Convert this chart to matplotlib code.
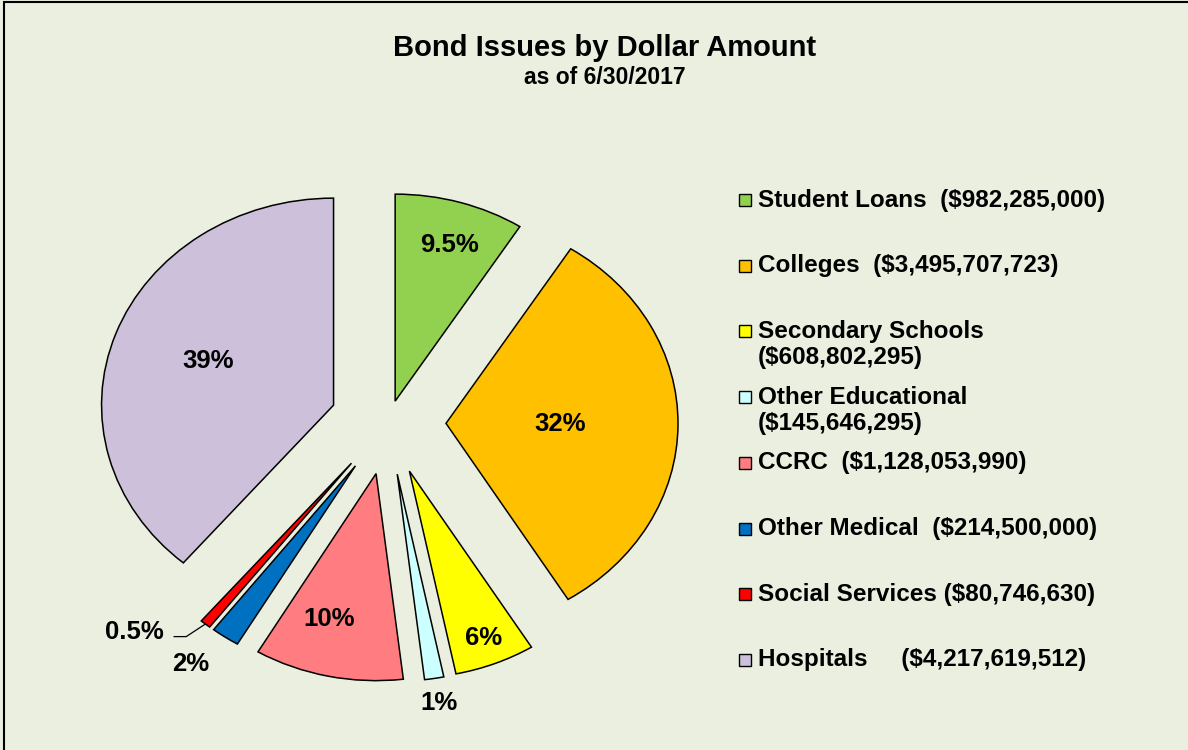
import numpy as np
import matplotlib.pyplot as plt
from matplotlib.patches import Rectangle

plt.rcParams['font.family'] = ['Liberation Sans', 'DejaVu Sans']
plt.rcParams['font.weight'] = 'bold'

# dados
categorias = ["Student Loans", "Colleges", "Secondary Schools", "Other Educational",
              "CCRC", "Other Medical", "Social Services", "Hospitals"]
valores = [982285000, 3495707723, 608802295, 145646295,
           1128053990, 214500000, 80746630, 4217619512]
rotulos_pct = ["9.5%", "32%", "6%", "1%", "10%", "2%", "0.5%", "39%"]
rotulos_legenda = ["Student Loans  ($982,285,000)",
                   "Colleges  ($3,495,707,723)",
                   "Secondary Schools\n($608,802,295)",
                   "Other Educational\n($145,646,295)",
                   "CCRC  ($1,128,053,990)",
                   "Other Medical  ($214,500,000)",
                   "Social Services ($80,746,630)",
                   "Hospitals     ($4,217,619,512)"]
cores = ["#92D050", "#FFC000", "#FFFF00", "#CCFFFF",
         "#FF7C80", "#0070C0", "#FF0000", "#CCC0DA"]

# layout
explode = [0.11, 0.25, 0.25, 0.25, 0.25, 0.25, 0.25, 0.25]
dist_rotulo = [0.79, 0.49, 0.87, 1.12, 0.73, 1.19, 1.24, 0.58]
desvio_ang = [-1, 0, 0, 0, -3, -2, -8.2, -1]
fundo = "#EBEFE0"
W, H = 1188, 750

fig = plt.figure(figsize=(W / 100, H / 100), dpi=100, facecolor=fundo)

def fx(px):
    return px / W

def fy(py):
    return 1 - py / H

# eixo da pizza (esticado na horizontal como no original)
cx, cy, rx, ry = 388, 423, 232, 207
ax = fig.add_axes([fx(cx - 1.5 * rx), fy(cy + 1.5 * ry), 3 * rx / W, 3 * ry / H])
ax.set_facecolor(fundo)
wedges, _ = ax.pie(valores, explode=explode, colors=cores, startangle=90,
                   counterclock=False,
                   wedgeprops=dict(edgecolor='black', linewidth=1.1))
ax.set_aspect('auto')
ax.set_xlim(-1.5, 1.5)
ax.set_ylim(-1.5, 1.5)
ax.axis('off')

for i, w in enumerate(wedges):
    meio = np.deg2rad((w.theta1 + w.theta2) / 2)
    ang = meio + np.deg2rad(desvio_ang[i])
    r = explode[i] + dist_rotulo[i]
    x, y = r * np.cos(ang), r * np.sin(ang)
    ax.text(x, y, rotulos_pct[i], ha='center', va='center', fontsize=18.5,
            fontweight='bold')
    if rotulos_pct[i] == "0.5%":
        r0 = 1.0 + explode[i]
        x0, y0 = r0 * np.cos(meio), r0 * np.sin(meio)
        ax.plot([x0, x + 0.224, x + 0.172], [y0, y - 0.02, y - 0.02],
                color='black', lw=0.9)

# titulo
fig.text(fx(605), fy(48), "Bond Issues by Dollar Amount", ha='center',
         va='center', fontsize=21, fontweight='bold')
fig.text(fx(605), fy(77), "as of 6/30/2017", ha='center', va='center',
         fontsize=16.5, fontweight='bold')

# legenda manual
y0, passo = 200, 65.7
for i, lab in enumerate(rotulos_legenda):
    yc = y0 + i * passo
    fig.patches.append(Rectangle((fx(739), fy(yc + 6)), 12 / W, 12 / H,
                                 transform=fig.transFigure, facecolor=cores[i],
                                 edgecolor='black', linewidth=1))
    for j, linha in enumerate(lab.split("\n")):
        fig.text(fx(758), fy(yc + j * 26), linha, ha='left', va='center',
                 fontsize=17.5, fontweight='bold')

# moldura
fig.patches.append(Rectangle((fx(4), -0.01), 1.02, fy(2) + 0.01,
                             transform=fig.transFigure, fill=False,
                             edgecolor='black', linewidth=1.5))

fig.savefig("out.png", dpi=100, facecolor=fundo)
